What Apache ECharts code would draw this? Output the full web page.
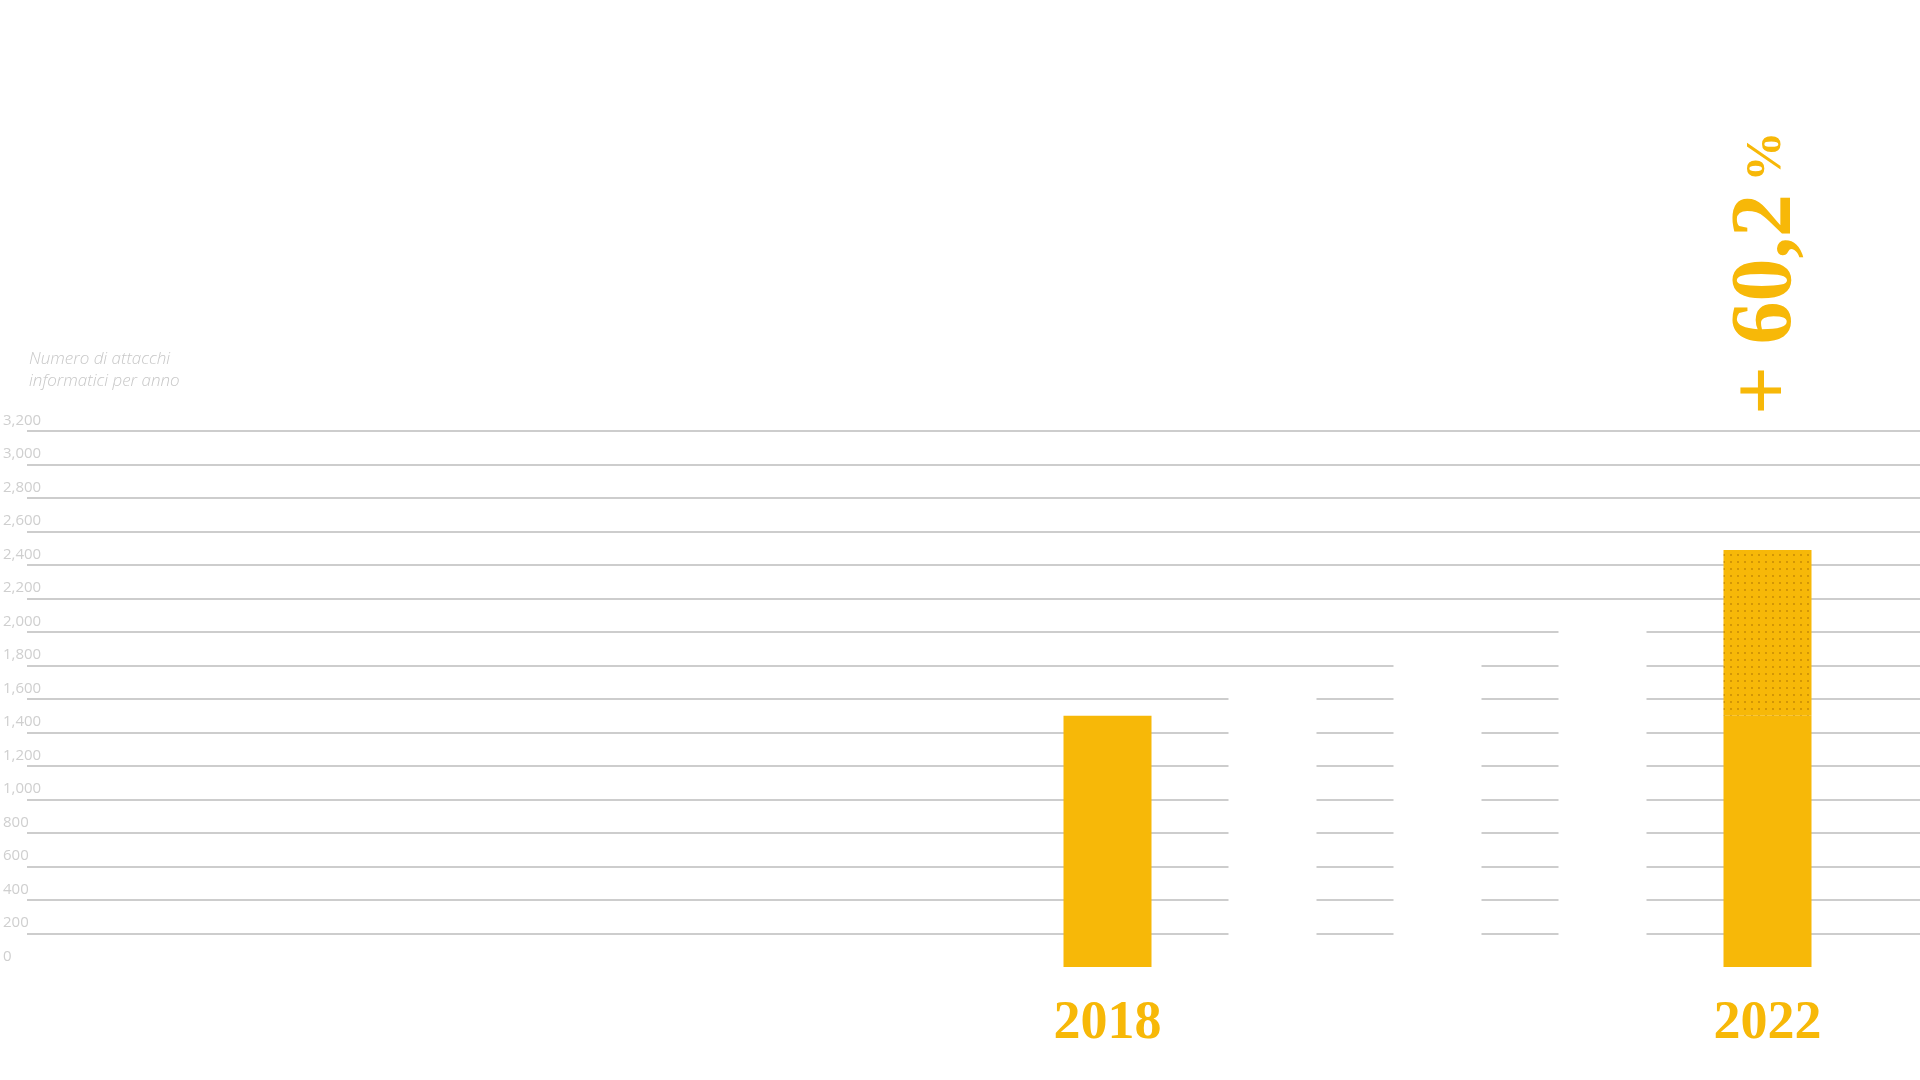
<!DOCTYPE html>
<html>
<head>
<meta charset="utf-8">
<script src="https://cdn.jsdelivr.net/npm/echarts@6/dist/echarts.min.js"></script>
<style>html,body{margin:0;background:#fff}#main{width:1920px;height:1080px}</style>
</head>
<body>
<div id="main"></div>
<script>
var years = ['2018', '2019', '2020', '2021', '2022'];
var attacks = [1500, 1680, 1890, 2080, 1500];
var increase2022 = [0, 0, 0, 0, 990];
var yTicks = [0, 200, 400, 600, 800, 1000, 1200, 1400, 1600, 1800, 2000, 2200, 2400, 2600, 2800, 3000, 3200];
var highlighted = ['2018', '2022'];

var YELLOW = '#F7B808';
var myChart = echarts.init(document.getElementById('main'));

var option = {
    backgroundColor: '#fff',
    animation: false,
    title: {
        text: 'Numero di attacchi\ninformatici per anno',
        left: 24, top: 343,
        textStyle: {color: '#c8c8c8', fontFamily: 'Open Sans', fontStyle: 'italic', fontWeight: 300, fontSize: 17, lineHeight: 22}
    },
    grid: [
        {left: 0, right: 0, top: 431, bottom: 113},
        {left: 1025, right: 70, top: 431, bottom: 113}
    ],
    xAxis: [
        {gridIndex: 0, type: 'category', data: years, show: false},
        {
            gridIndex: 1, type: 'category', data: years,
            axisLine: {show: false}, axisTick: {show: false},
            axisLabel: {
                margin: 30,
                fontFamily: 'Liberation Sans Narrow', fontWeight: 'bold', fontSize: 54,
                color: function (v) { return highlighted.indexOf(v) >= 0 ? YELLOW : '#fff'; }
            }
        }
    ],
    yAxis: [
        {
            gridIndex: 0, type: 'value', min: yTicks[0], max: yTicks[yTicks.length - 1], interval: 200,
            axisLine: {show: false}, axisTick: {show: false},
            splitLine: {show: true, showMinLine: false, lineStyle: {color: '#bdbdbd', width: 1.5}},
            axisLabel: {inside: true, margin: -24, verticalAlign: 'bottom', padding: [0, 0, 3, 0],
                color: '#cfcfcf', fontFamily: 'Open Sans', fontSize: 15}
        },
        {gridIndex: 1, type: 'value', min: yTicks[0], max: yTicks[yTicks.length - 1], show: false}
    ],
    series: [
        {
            type: 'bar', xAxisIndex: 1, yAxisIndex: 1, stack: 'a', barWidth: 88,
            data: attacks.map(function (v, i) {
                return {value: v, itemStyle: {color: highlighted.indexOf(years[i]) >= 0 ? YELLOW : '#fff'}};
            })
        },
        {
            type: 'bar', xAxisIndex: 1, yAxisIndex: 1, stack: 'a', barWidth: 88,
            itemStyle: {
                color: YELLOW,
                decal: {symbol: 'circle', symbolSize: 0.45, dashArrayX: [[4, 3]], dashArrayY: [4, 3], color: 'rgba(150,95,0,0.55)', rotation: 0}
            },
            label: {
                show: true, position: 'top', distance: 135, rotate: 90, align: 'left', verticalAlign: 'middle',
                formatter: function (p) { return p.value ? '{a|+ 60,2}{b| %}' : ''; },
                rich: {
                    a: {color: YELLOW, fontFamily: 'Liberation Sans Narrow', fontWeight: 'bold', fontSize: 86},
                    b: {color: YELLOW, fontFamily: 'Liberation Sans Narrow', fontWeight: 'bold', fontSize: 50}
                }
            },
            data: increase2022
        }
    ]
};

myChart.setOption(option);
</script>
</body>
</html>
